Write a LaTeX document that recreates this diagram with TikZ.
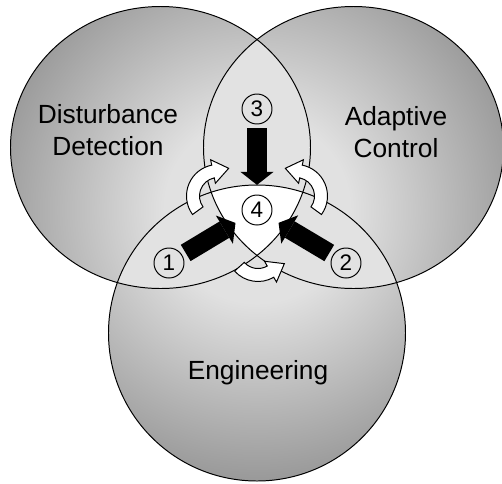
\documentclass[tikz,border=0pt]{standalone}
\usepackage{fontspec}
\setmainfont{Liberation Sans}
\usepackage{tikz}
\usetikzlibrary{arrows.meta, calc}
\definecolor{lensgray}{RGB}{226,226,226}
\definecolor{rimgray}{RGB}{145,145,145}
\definecolor{coregray}{RGB}{225,225,225}
\pgfdeclareradialshading{vennshade}{\pgfpoint{0bp}{0bp}}%
  {color(0bp)=(coregray); color(8bp)=(coregray); color(25bp)=(rimgray); color(50bp)=(rimgray)}
% the three sets
\newcommand{\ddset}{(-96.5,62.5) ellipse [x radius=150, y radius=141]}
\newcommand{\acset}{(96.5,62.5) ellipse [x radius=150, y radius=141]}
\newcommand{\enset}{(0,-123) ellipse [x radius=148.5, y radius=148]}
% curved white arrow: centre, start angle, end angle, radius
\newcommand{\turnarrow}[4]{%
  \filldraw[turn] ($(#1)+({#2}:{#4+6.5})$) arc[start angle=#2, end angle=#3, radius={#4+6.5}]
    -- ($(#1)+({#3}:{#4+12})$)
    -- ($(#1)+({#3}:{#4})+({#3+90*sign((#3)-(#2))}:16)$)
    -- ($(#1)+({#3}:{#4-12})$)
    -- ($(#1)+({#3}:{#4-6.5})$) arc[start angle=#3, end angle=#2, radius={#4-6.5}]
    -- cycle;}

\begin{document}
\begin{tikzpicture}[x=0.25mm, y=0.25mm,
  zone/.style={font=\fontsize{18.7}{22.8}\selectfont, align=center},
  num/.style={draw, circle, line width=0.7pt, minimum size=7.5mm, inner sep=0pt,
              font=\fontsize{16}{18}\selectfont},
  blockarr/.style={line width=4.75mm, -{Triangle[width=8.25mm, length=3.25mm, line width=0pt]},
                   shorten <=1mm, shorten >=2.4mm},
  turn/.style={fill=white, draw=black, line width=0.7pt, line join=miter},
  rim/.style={draw=black, line width=0.7pt}
]
  \useasboundingbox (-257,-273) rectangle (245,210);

  % shaded discs
  \begin{scope}\clip \ddset; \shade[shading=vennshade] (0,0) circle (290);\end{scope}
  \begin{scope}\clip \acset; \shade[shading=vennshade] (0,0) circle (290);\end{scope}
  \begin{scope}\clip \enset; \shade[shading=vennshade] (0,0) circle (290);\end{scope}

  % overlaps
  \begin{scope}\clip \ddset; \fill[lensgray] \acset;\end{scope}
  \begin{scope}\clip \ddset; \fill[lensgray] \enset;\end{scope}
  \begin{scope}\clip \acset; \fill[lensgray] \enset;\end{scope}
  \begin{scope}\clip \ddset; \clip \acset; \fill[white] \enset;\end{scope}

  \draw[rim] \ddset;
  \draw[rim] \acset;
  \draw[rim] \enset;

  \node[zone] (dd) at (-149,80) {Disturbance\\Detection};
  \node[zone] (ac) at (139,78) {Adaptive\\Control};
  \node[zone] (en) at (1,-163) {Engineering};

  \node[num] (n1) at (-88,-53) {1};
  \node[num] (n2) at (89,-53) {2};
  \node[num] (n3) at (0,101) {3};
  \node[num] (n4) at (0,0) {4};

  \draw[blockarr] (n1) -- (n4);
  \draw[blockarr] (n2) -- (n4);
  \draw[blockarr] (n3) -- (n4);

  \turnarrow{-39,14}{216}{101.5}{25}
  \turnarrow{39,14}{-36}{78.5}{25}
  \turnarrow{1,-40}{222}{300}{25}
\end{tikzpicture}
\end{document}
